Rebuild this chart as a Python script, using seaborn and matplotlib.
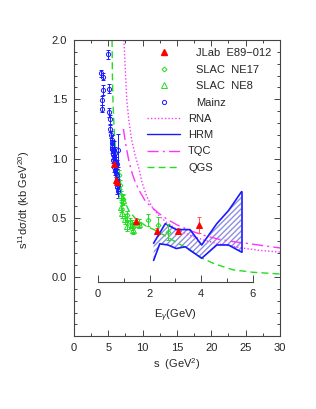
import numpy as np
import seaborn as sns
import matplotlib
matplotlib.use('Agg')
import matplotlib.pyplot as plt
from matplotlib.lines import Line2D
from matplotlib.ticker import MultipleLocator

sns.set_style('ticks')
plt.rcParams['font.family'] = ['Liberation Sans', 'DejaVu Sans']
plt.rcParams['mathtext.fontset'] = 'custom'
plt.rcParams['mathtext.rm'] = 'Liberation Sans'
plt.rcParams['mathtext.it'] = 'Liberation Sans:italic'

# deuteron mass -> s = md^2 + 2 md E
md = 1.8756

# ---- data ----
mainz_s = [5.0, 3.98, 4.22, 4.18, 5.05, 4.08, 4.12, 5.14, 5.2, 5.24, 5.34, 5.49, 5.5, 5.6,
           5.55, 5.7, 5.65, 5.8, 5.9, 5.75, 5.97, 6.45, 6.1, 6.2, 5.9, 6.0, 6.1, 6.2, 6.3,
           6.25, 6.35, 6.3, 6.4]
mainz_y = [1.88, 1.72, 1.69, 1.58, 1.59, 1.49, 1.42, 1.39, 1.33, 1.25, 1.20, 1.16, 1.13, 1.10,
           1.08, 1.06, 1.04, 1.02, 1.07, 0.99, 1.05, 1.07, 0.97, 0.95, 0.93, 0.90, 0.88, 0.86,
           0.83, 0.80, 0.78, 0.76, 0.73]
mainz_e = [0.04, 0.03, 0.03, 0.04, 0.04, 0.04, 0.03, 0.04, 0.04, 0.03, 0.03, 0.04, 0.03, 0.03,
           0.03, 0.03, 0.04, 0.04, 0.08, 0.03, 0.05, 0.14, 0.04, 0.04, 0.04, 0.04, 0.04, 0.05,
           0.05, 0.05, 0.05, 0.06, 0.06]

jlab_s = [5.9, 6.1, 6.3, 9.1, 12.1, 15.1, 18.2]
jlab_y = [0.95, 0.82, 0.80, 0.47, 0.39, 0.39, 0.44]
jlab_e = [0.02, 0.02, 0.02, 0.03, 0.02, 0.02, 0.07]

ne17_s = [6.5, 6.7, 7.2, 7.7, 8.2, 8.6, 9.4, 10.8, 12.3, 13.7]
ne17_y = [0.86, 0.78, 0.66, 0.52, 0.46, 0.42, 0.45, 0.48, 0.44, 0.38]
ne17_e = [0.04, 0.04, 0.04, 0.04, 0.04, 0.04, 0.04, 0.05, 0.07, 0.07]

ne8_s = [6.9, 7.2, 6.9, 7.0, 7.4, 7.7, 8.4, 8.6, 9.4]
ne8_y = [0.69, 0.65, 0.59, 0.54, 0.49, 0.43, 0.44, 0.40, 0.45]
ne8_e = [0.04, 0.04, 0.04, 0.04, 0.04, 0.04, 0.04, 0.04, 0.04]

rna_s = [7.28, 7.5, 7.7, 8.0, 8.4, 8.9, 9.4, 9.9, 10.6, 11.5, 12.5, 13.5, 15, 17, 19, 21, 23, 25, 27, 30]
rna_y = [2.0, 1.72, 1.49, 1.32, 1.16, 1.03, 0.93, 0.80, 0.68, 0.58, 0.51, 0.46, 0.40, 0.35, 0.31,
         0.28, 0.26, 0.24, 0.225, 0.21]

tqc_s = [7.2, 7.6, 8.0, 8.5, 9.0, 9.6, 10.3, 11.1, 12.3, 13.5, 15, 17, 19, 21, 23, 25, 27.5, 30]
tqc_y = [1.25, 1.10, 0.98, 0.87, 0.79, 0.72, 0.65, 0.60, 0.54, 0.49, 0.44, 0.39, 0.35, 0.32,
         0.30, 0.285, 0.265, 0.245]

qgs_s = [5.55, 5.6, 5.7, 5.85, 6.0, 6.3, 6.7, 7.2, 8.0, 9.0, 10.5, 12.0, 13.5, 15.0, 16.5, 18.6,
         20.5, 23.2, 26.0, 29.5, 30]
qgs_y = [2.0, 1.7, 1.45, 1.25, 1.12, 0.93, 0.78, 0.66, 0.56, 0.49, 0.43, 0.39, 0.34, 0.29, 0.24,
         0.16, 0.11, 0.06, 0.04, 0.027, 0.025]

hrm_up_s = [11.6, 13.3, 14.9, 16.9, 18.6, 20.8, 22.5, 24.4]
hrm_up_y = [0.285, 0.45, 0.40, 0.40, 0.27, 0.45, 0.56, 0.72]
hrm_lo_s = [11.6, 12.5, 13.7, 14.9, 16.2, 18.6, 20.8, 22.5, 24.4]
hrm_lo_y = [0.14, 0.28, 0.27, 0.24, 0.255, 0.158, 0.27, 0.27, 0.21]

blue = '#1a1aff'
green = '#22dd22'
red = '#ff0000'
mag = '#ff33ff'

fig = plt.figure(figsize=(3.16, 4.09), dpi=100)
ax = fig.add_axes([0.234, 0.178, 0.652, 0.724])

# theory curves
sns.lineplot(x=rna_s, y=rna_y, ax=ax, sort=False, estimator=None, color=mag, lw=1.0,
             linestyle=(0, (1, 1.5)))
sns.lineplot(x=tqc_s, y=tqc_y, ax=ax, sort=False, estimator=None, color=mag, lw=1.0,
             linestyle=(0, (8, 3, 1.5, 3)))
sns.lineplot(x=qgs_s, y=qgs_y, ax=ax, sort=False, estimator=None, color=green, lw=1.0,
             linestyle=(0, (5, 3)))

# HRM band
poly_s = hrm_up_s + hrm_lo_s[::-1]
poly_y = hrm_up_y + hrm_lo_y[::-1]
ax.fill(poly_s, poly_y, facecolor='none', edgecolor='#9090e0', hatch='//////', lw=0)
sns.lineplot(x=hrm_up_s, y=hrm_up_y, ax=ax, sort=False, estimator=None, color=blue, lw=1.2)
sns.lineplot(x=hrm_lo_s, y=hrm_lo_y, ax=ax, sort=False, estimator=None, color=blue, lw=1.2)
ax.plot([hrm_up_s[-1], hrm_lo_s[-1]], [hrm_up_y[-1], hrm_lo_y[-1]], color=blue, lw=1.2)

# data with error bars
ax.errorbar(ne8_s, ne8_y, yerr=ne8_e, fmt='^', ms=4, mfc='none', mec=green, ecolor=green,
            elinewidth=0.7, capsize=1.5, mew=0.7)
ax.errorbar(ne17_s, ne17_y, yerr=ne17_e, fmt='D', ms=2.5, mfc='none', mec=green, ecolor=green,
            elinewidth=0.7, capsize=1.5, mew=0.7)
ax.errorbar(mainz_s, mainz_y, yerr=mainz_e, fmt='o', ms=3, mfc='none', mec=blue, ecolor=blue,
            elinewidth=0.7, capsize=1.5, mew=0.7)
ax.errorbar(jlab_s, jlab_y, yerr=jlab_e, fmt='^', ms=4, mfc=red, mec=red, ecolor='#ff5555',
            elinewidth=0.7, capsize=1.5, mew=0.7)

ax.set_xlim(0, 30)
ax.set_ylim(-0.5, 2.0)
ax.xaxis.set_major_locator(MultipleLocator(5))
ax.xaxis.set_minor_locator(MultipleLocator(2.5))
ax.yaxis.set_major_locator(MultipleLocator(0.5))
ax.yaxis.set_minor_locator(MultipleLocator(0.1))
ax.set_yticks([0.0, 0.5, 1.0, 1.5, 2.0])
ax.set_yticklabels(['0.0', '0.5', '1.0', '1.5', '2.0'])
ax.tick_params(which='both', direction='in', top=True, right=True, labelsize=8, width=0.7,
               color='#444444', pad=5)
ax.tick_params(which='major', length=4)
ax.tick_params(which='minor', length=2.5)
for sp in ax.spines.values():
    sp.set_linewidth(0.8)
    sp.set_color('#444444')
ax.set_xlabel('s  (GeV$^2$)', fontsize=8, labelpad=2)
ax.set_ylabel('s$^{11}$dσ/dt (kb GeV$^{20}$)', fontsize=8)
ax.yaxis.set_label_coords(-0.204, 0.46)

# E_gamma axis drawn inside the main axes
e0 = md ** 2
e6 = md ** 2 + 2 * md * 6
eax = ax.inset_axes([e0, -0.045, e6 - e0, 0.001], transform=ax.transData)
eax.set_xlim(0, 6)
eax.patch.set_alpha(0)
for k in ['top', 'left', 'right']:
    eax.spines[k].set_visible(False)
eax.spines['bottom'].set_linewidth(0.8)
eax.spines['bottom'].set_color('#444444')
eax.set_yticks([])
eax.xaxis.set_major_locator(MultipleLocator(2))
eax.xaxis.set_minor_locator(MultipleLocator(1))
eax.tick_params(which='both', direction='in', labelsize=8, width=0.7, color='#444444', pad=5)
eax.tick_params(which='major', length=5)
eax.tick_params(which='minor', length=3)
eax.set_xlabel('E$_\\gamma$(GeV)', fontsize=8, labelpad=6)

# legends: data markers, then theory lines
mk_handles = [
    Line2D([], [], ls='none', marker='^', ms=4, color=red),
    Line2D([], [], ls='none', marker='D', ms=2.5, mfc='none', mec=green, mew=0.7),
    Line2D([], [], ls='none', marker='^', ms=4, mfc='none', mec=green, mew=0.7),
    Line2D([], [], ls='none', marker='o', ms=3, mfc='none', mec=blue, mew=0.7),
]
mk_labels = ['JLab  E89\u2212012', 'SLAC  NE17', 'SLAC  NE8', 'Mainz']
ln_handles = [
    Line2D([], [], color=mag, lw=1.0, ls=(0, (1, 1.5))),
    Line2D([], [], color=blue, lw=1.0),
    Line2D([], [], color=mag, lw=1.0, ls=(0, (8, 3, 1.5, 3))),
    Line2D([], [], color=green, lw=1.0, ls=(0, (5, 3))),
]
ln_labels = ['RNA', 'HRM', 'TQC', 'QGS']
leg1 = ax.legend(mk_handles, mk_labels, loc='upper left', bbox_to_anchor=(0.355, 0.972),
                 frameon=False, fontsize=8, handlelength=3.0, handletextpad=1.4,
                 labelspacing=0.58, borderaxespad=0, borderpad=0)
ax.add_artist(leg1)
ax.legend(ln_handles, ln_labels, loc='upper left', bbox_to_anchor=(0.355, 0.752),
          frameon=False, fontsize=8, handlelength=3.0, handletextpad=0.7,
          labelspacing=0.58, borderaxespad=0, borderpad=0)

plt.savefig('out.png', dpi=100)
